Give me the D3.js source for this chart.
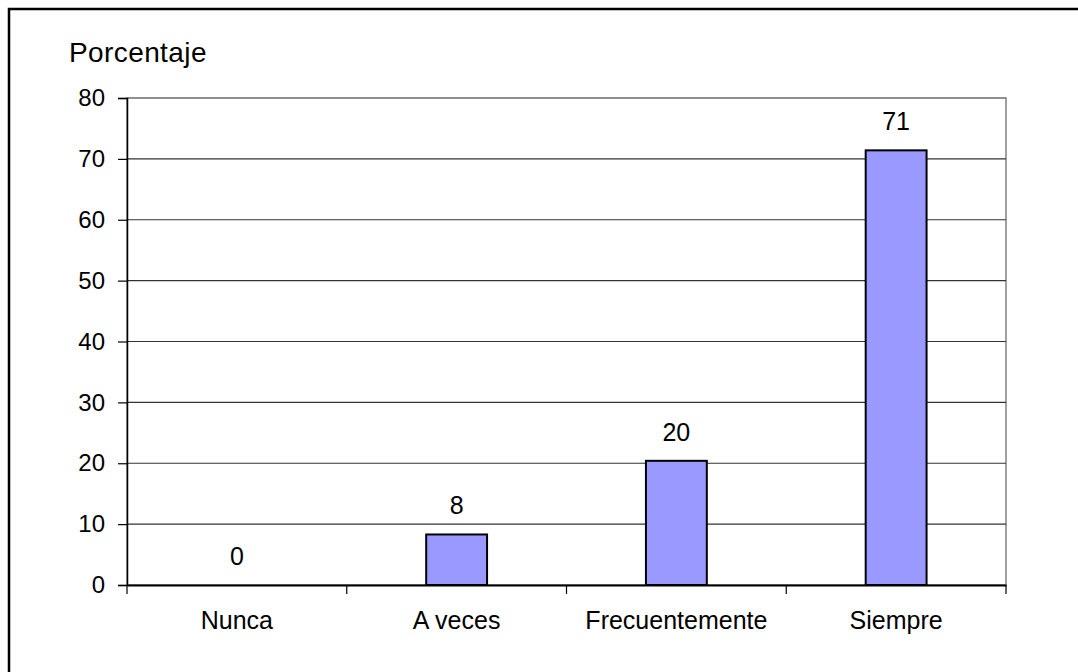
<!DOCTYPE html>
<html><head><meta charset="utf-8">
<script src="https://cdn.jsdelivr.net/npm/d3@7"></script>
<style>html,body{margin:0;padding:0;background:#fff;}svg{display:block;font-family:"Liberation Sans",Arial,sans-serif;}</style>
</head><body>
<svg id="c" width="1078" height="672"></svg>
<script>
const categories = ["Nunca", "A veces", "Frecuentemente", "Siempre"];
const values = [0, 8.3, 20.4, 71.4];
const valueLabels = ["0", "8", "20", "71"];
const yTicks = [0, 10, 20, 30, 40, 50, 60, 70, 80];
const yTitle = "Porcentaje";

const svg = d3.select("#c");
const m = {l: 127, r: 1006, t: 98, b: 585};
const x = d3.scaleBand().domain(categories).range([m.l, m.r]).paddingInner(0).paddingOuter(0);
const y = d3.scaleLinear().domain([0, 80]).range([m.b, m.t]);
const fs = 25;

// outer frame (left/top edges visible)
svg.append("path").attr("d", "M9,680V9H1090").attr("fill", "none").attr("stroke", "#000").attr("stroke-width", 2.5);

// plot border (gray)
svg.append("rect").attr("x", m.l).attr("y", m.t).attr("width", m.r - m.l).attr("height", m.b - m.t)
  .attr("fill", "none").attr("stroke", "#808080").attr("stroke-width", 1.5);

// gridlines
svg.append("g").selectAll("line").data(yTicks.filter(d => d > 0)).join("line")
  .attr("x1", m.l).attr("x2", m.r).attr("y1", d => y(d)).attr("y2", d => y(d))
  .attr("stroke", d => d === 80 ? "#808080" : "#333").attr("stroke-width", 1.2);

// y axis
const ya = svg.append("g").attr("transform", `translate(${m.l},0)`)
  .call(d3.axisLeft(y).tickValues(yTicks).tickSize(9).tickPadding(13));
ya.select(".domain").attr("stroke", "#000").attr("stroke-width", 1.5);
ya.selectAll(".tick line").attr("stroke", "#000").attr("stroke-width", 1.2);
ya.selectAll("text").attr("font-size", 24).attr("font-family", "Liberation Sans, Arial, sans-serif").attr("fill", "#000");

// x axis
const xa = svg.append("g").attr("transform", `translate(0,${m.b})`)
  .call(d3.axisBottom(x).tickSize(0).tickPadding(26));
xa.select(".domain").attr("stroke", "#000").attr("stroke-width", 2);
xa.selectAll("text").attr("font-size", fs).attr("font-family", "Liberation Sans, Arial, sans-serif").attr("fill", "#000");
// tick marks at category boundaries
const bounds = categories.map(c => x(c)).concat([m.r]);
svg.append("g").selectAll("line").data(bounds).join("line")
  .attr("x1", d => d).attr("x2", d => d).attr("y1", m.b).attr("y2", m.b + 9)
  .attr("stroke", "#000").attr("stroke-width", 1.2);

// bars
const bw = x.bandwidth() * 0.277;
svg.append("g").selectAll("rect").data(values.map((v, i) => ({c: categories[i], v}))).join("rect")
  .filter(d => d.v > 0)
  .attr("x", d => x(d.c) + x.bandwidth() / 2 - bw / 2)
  .attr("y", d => y(d.v)).attr("width", bw).attr("height", d => y(0) - y(d.v))
  .attr("fill", "#9999FF").attr("stroke", "#000").attr("stroke-width", 2);

// value labels
svg.append("g").selectAll("text").data(values.map((v, i) => ({c: categories[i], v, t: valueLabels[i]}))).join("text")
  .attr("x", d => x(d.c) + x.bandwidth() / 2).attr("y", d => y(d.v) - 20)
  .attr("text-anchor", "middle").attr("font-size", fs).text(d => d.t);

// y title
svg.append("text").attr("x", 69).attr("y", 62).attr("font-size", 28).attr("letter-spacing", 0.4).text(yTitle);
</script>
</body></html>
